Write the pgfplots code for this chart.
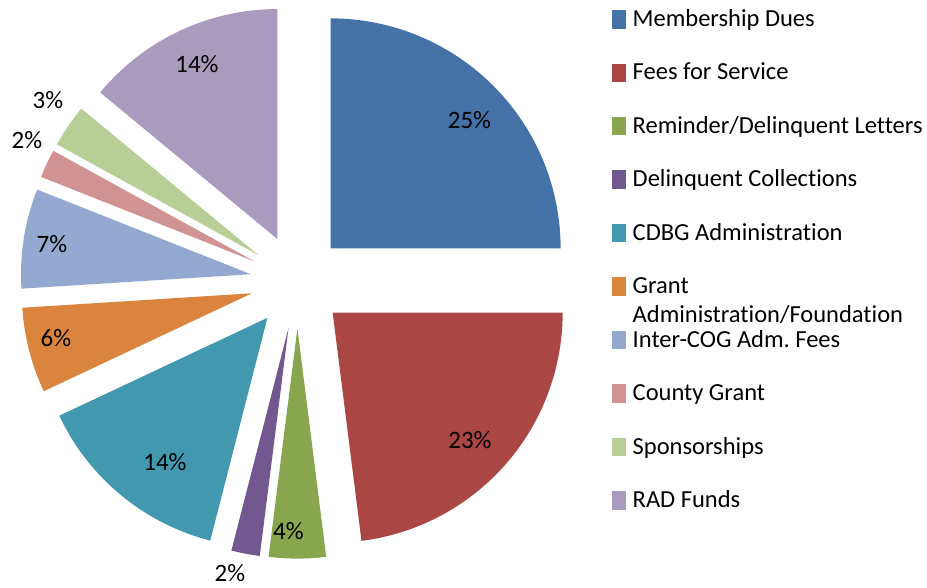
\documentclass[border=0pt]{standalone}
\usepackage{pgfplots}
\pgfplotsset{compat=1.18}
\usepackage{fontspec}
\setmainfont{Carlito}[Ligatures={NoCommon}]
\frenchspacing
\definecolor{c1}{HTML}{4572A7}
\definecolor{c2}{HTML}{AA4643}
\definecolor{c3}{HTML}{89A54E}
\definecolor{c4}{HTML}{71588F}
\definecolor{c5}{HTML}{4198AF}
\definecolor{c6}{HTML}{DB843D}
\definecolor{c7}{HTML}{93A9CF}
\definecolor{c8}{HTML}{D19392}
\definecolor{c9}{HTML}{B9CD96}
\definecolor{c10}{HTML}{A99BBD}
% #1 start angle, #2 end angle, #3 dx, #4 dy (explosion offset), #5 colour
\newcommand{\slice}[5]{%
  \addplot[draw=none, fill=#5, domain=#2:#1, samples=90, variable=\t]
    ({#3+230*cos(\t)}, {#4+230*sin(\t)}) -- (axis cs:#3,#4) -- cycle;
}
\begin{document}
\begin{tikzpicture}
\begin{axis}[
  name=ax,
  scale only axis, width=927pt, height=587pt,
  xmin=-297.4, xmax=629.6, ymin=-305.4, ymax=281.6,
  hide axis, clip=false,
  legend style={draw=none, fill=none, inner sep=0pt, outer sep=0pt,
    at={(axis cs:314.3,275.4)}, anchor=north west,
    row sep=31.15pt, column sep=7pt,
    nodes={inner sep=0pt, outer sep=0pt},
    font=\fontsize{24.5}{29}\selectfont},
  legend cell align=left,
  legend image code/.code={\path (0pt,-11.4pt) rectangle (14pt,7pt);
    \fill[#1] (0pt,-7pt) rectangle (14pt,7pt);},
]
% shares (percent): 25, 23, 4, 2, 14, 6, 7, 2, 3, 14 -> angles clockwise from 90 deg
\slice{90}{0}{33.23}{33.23}{c1}
\addlegendentry{\strut Membership Dues}
\slice{0}{-82.8}{35.26}{-31.08}{c2}
\addlegendentry{\strut Fees for Service}
\slice{-82.8}{-97.2}{0}{-47}{c3}
\addlegendentry{\strut Reminder/Delinquent Letters}
\slice{-97.2}{-104.4}{-8.81}{-46.17}{c4}
\addlegendentry{\strut Delinquent Collections}
\slice{-104.4}{-154.8}{-29.96}{-36.21}{c5}
\addlegendentry{\strut CDBG Administration}
\slice{-154.8}{-176.4}{-45.52}{-11.69}{c6}
\addlegendentry{\raisebox{0pt}[\height][0pt]{\begin{tabular}[t]{@{}l@{}}Grant\\Administration/Foundation\end{tabular}}\strut}
\slice{-176.4}{-201.6}{-46.42}{7.35}{c7}
\addlegendentry{\strut Inter-COG Adm.\ Fees}
\slice{-201.6}{-208.8}{-42.53}{20.01}{c8}
\addlegendentry{\strut County Grant}
\slice{-208.8}{-219.6}{-38.87}{26.42}{c9}
\addlegendentry{\strut Sponsorships}
\slice{-219.6}{-270}{-20.01}{42.53}{c10}
\addlegendentry{\strut RAD Funds}
\begin{scope}[every node/.style={font=\fontsize{25}{28}\selectfont}]
\node at (axis cs:172.1,161.6) {25\%};
\node at (axis cs:172.6,-158.4) {23\%};
\node at (axis cs:-8.9,-249.4) {4\%};
\node at (axis cs:-67.4,-291.6) {2\%};
\node at (axis cs:-132.4,-180.4) {14\%};
\node at (axis cs:-241.4,-56.4) {6\%};
\node at (axis cs:-245.4,37.6) {7\%};
\node at (axis cs:-270.4,141.6) {2\%};
\node at (axis cs:-249.4,181.6) {3\%};
\node at (axis cs:-100.4,217.6) {14\%};
\end{scope}
\end{axis}
\pgfresetboundingbox
\path (ax.south west) rectangle (ax.north east);
\end{tikzpicture}
\end{document}
